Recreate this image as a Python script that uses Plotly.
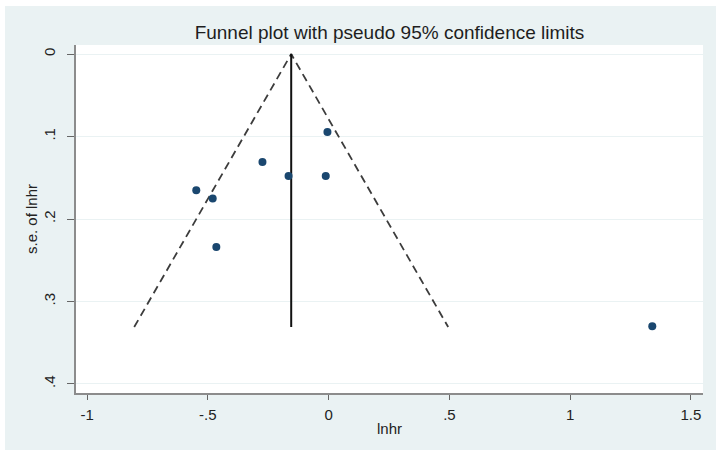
import plotly.graph_objects as go

# Study estimates (log hazard ratio) and their standard errors
lnhr = [-0.005, -0.274, -0.166, -0.012, -0.548, -0.480, -0.465, 1.340]
se_lnhr = [0.0945, 0.131, 0.148, 0.148, 0.165, 0.175, 0.234, 0.330]

# Pooled estimate line and pseudo 95% confidence limits
pooled_x = [-0.155, -0.155]
pooled_y = [0.0, 0.331]
funnel_x = [-0.805, -0.155, 0.495]
funnel_y = [0.331, 0.0, 0.331]

x_ticks = [-1, -0.5, 0, 0.5, 1, 1.5]
x_labels = ["-1", "-.5", "0", ".5", "1", "1.5"]
y_ticks = [0, 0.1, 0.2, 0.3, 0.4]
y_labels = ["0", ".1", ".2", ".3", ".4"]

W, H = 716, 450
ML, MR, MT, MB = 76, 13, 45, 57
PW, PH = W - ML - MR, H - MT - MB

fig = go.Figure()
fig.add_trace(go.Scatter(x=funnel_x, y=funnel_y, mode="lines",
                         line=dict(color="#3c3c3c", width=1.8, dash="8px,5px"),
                         hoverinfo="skip"))
fig.add_trace(go.Scatter(x=pooled_x, y=pooled_y, mode="lines",
                         line=dict(color="#111111", width=2), hoverinfo="skip"))
fig.add_trace(go.Scatter(x=lnhr, y=se_lnhr, mode="markers",
                         marker=dict(color="#1a476f", size=8)))

font_family = "Liberation Sans, Arial, sans-serif"

# white strips at the top and left outside the bluish frame
def px_x(p):
    return (p - ML) / PW

def px_y(p):
    return 1 - (p - MT) / PH

fig.add_shape(type="rect", xref="paper", yref="paper",
              x0=px_x(-5), x1=px_x(W + 5), y0=px_y(-5), y1=px_y(6),
              fillcolor="white", line=dict(width=0), layer="above")
fig.add_shape(type="rect", xref="paper", yref="paper",
              x0=px_x(-5), x1=px_x(5), y0=px_y(-5), y1=px_y(H + 5),
              fillcolor="white", line=dict(width=0), layer="above")

fig.update_layout(
    width=W, height=H,
    margin=dict(l=ML, r=MR, t=MT, b=MB),
    paper_bgcolor="#eaf2f3",
    plot_bgcolor="white",
    showlegend=False,
    font=dict(family=font_family, color="#222222", size=15),
    title=dict(text="Funnel plot with pseudo 95% confidence limits",
               x=0.5, xref="paper", xanchor="center",
               y=1 - 32 / H, yanchor="middle",
               font=dict(size=19, color="#1e1e1e")),
    xaxis=dict(range=[-1.046, 1.55], tickvals=x_ticks, ticktext=x_labels,
               showgrid=False, zeroline=False,
               showline=True, linecolor="#8c8c8c", linewidth=1.5,
               ticks="outside", ticklen=5, tickcolor="#666666", tickwidth=1.2,
               ticklabelstandoff=2,
               tickfont=dict(size=15, color="#222222"),
               title=dict(text="lnhr", standoff=2, font=dict(size=15, color="#222222"))),
    yaxis=dict(range=[0.411, -0.011], tickvals=y_ticks, ticktext=y_labels,
               showgrid=True, gridcolor="#eaf2f3", gridwidth=1.2,
               zeroline=False,
               showline=True, linecolor="#8c8c8c", linewidth=1.5,
               ticks="outside", ticklen=7, tickcolor="#666666", tickwidth=1.2,
               ticklabelstandoff=6,
               tickangle=-90,
               tickfont=dict(size=15, color="#222222"),
               title=dict(text="s.e. of lnhr", standoff=0, font=dict(size=15, color="#222222"))),
)

fig.write_html("out.html")
